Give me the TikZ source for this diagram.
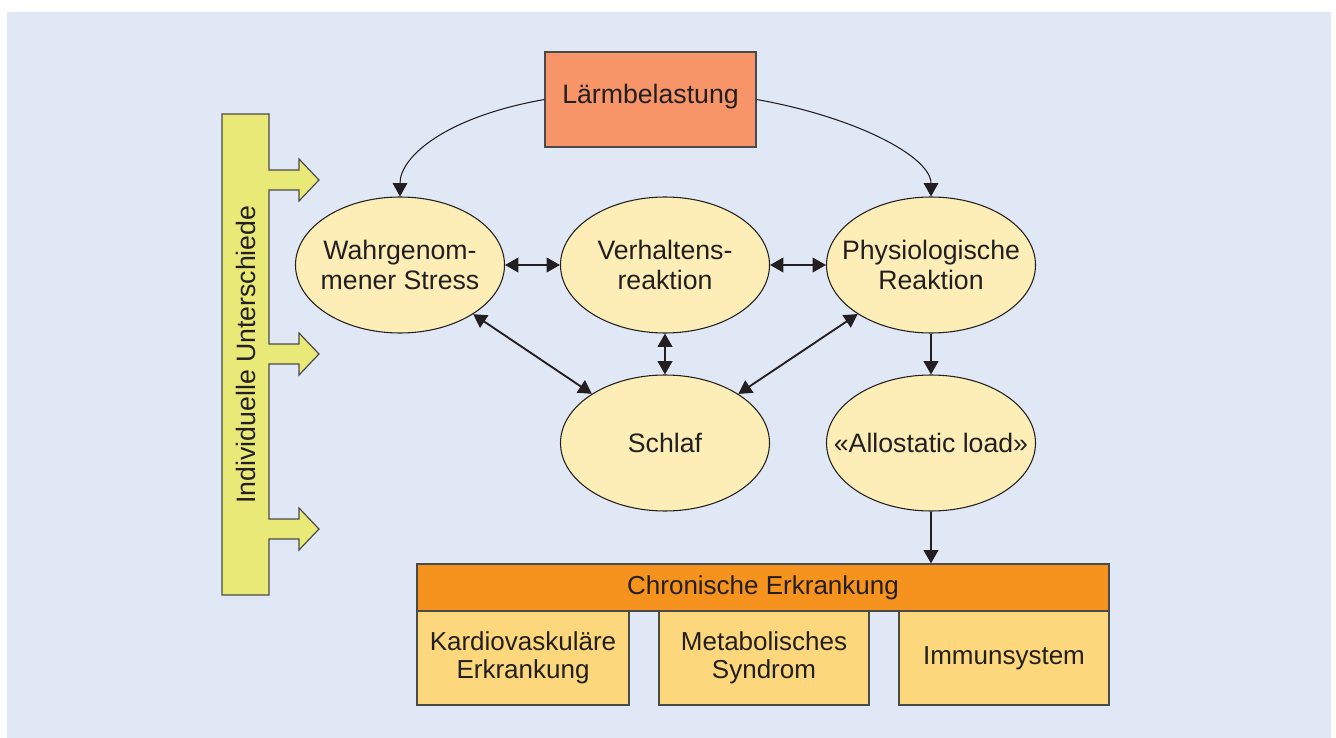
\documentclass[tikz,border=0pt]{standalone}
\usepackage{fontspec}
\setmainfont{Liberation Sans}
\usetikzlibrary{arrows.meta,shapes.geometric}
\definecolor{bgc}{HTML}{E0E8F5}
\definecolor{laermc}{HTML}{F79569}
\definecolor{barc}{HTML}{E9E977}
\definecolor{ellc}{HTML}{FDEDB6}
\definecolor{hdrc}{HTML}{F6921E}
\definecolor{subc}{HTML}{FDD77B}
\definecolor{linec}{HTML}{231F20}
\definecolor{boxline}{HTML}{4A4A4A}
\begin{document}
\begin{tikzpicture}[x=0.75pt,y=-0.75pt,
  mainfont/.style={font=\fontsize{20}{22.5}\selectfont},
  lbl/.style={mainfont,align=center,text=linec,inner sep=0pt},
  ell/.style={ellipse,draw=linec,line width=0.8pt,fill=ellc,minimum width=156.75pt,minimum height=102pt,inner sep=0pt},
  laerm/.style={rectangle,draw=boxline,line width=0.9pt,fill=laermc,minimum width=158.25pt,minimum height=71.25pt,inner sep=0pt,mainfont,text=linec},
  hdr/.style={rectangle,draw=boxline,line width=0.9pt,fill=hdrc,minimum width=519pt,minimum height=35.25pt,inner sep=0pt,font=\fontsize{19.5}{21}\selectfont,text=linec},
  sub/.style={rectangle,draw=boxline,line width=0.9pt,fill=subc,minimum height=70.5pt,inner sep=0pt,align=center,font=\fontsize{19.5}{21}\selectfont,text=linec},
  bar/.style={draw=boxline,line width=0.9pt,fill=barc},
  arr/.style={draw=linec,line width=1.4pt,-{Triangle[length=10pt,width=11pt]}},
  darr/.style={draw=linec,line width=1.4pt,{Triangle[length=10pt,width=11pt]}-{Triangle[length=10pt,width=11pt]}},
  carr/.style={draw=linec,line width=0.8pt,-{Triangle[length=10pt,width=11pt]}}
]
\useasboundingbox (0,0) rectangle (1336,738);
\fill[bgc] (7,12) rectangle (1331,738);

% left bar with three arrows
\draw[bar] (222,114) -- (269,114) -- (269,170) -- (299,170) -- (299,159) -- (319,180) -- (299,201) -- (299,190) -- (269,190)
  -- (269,344) -- (299,344) -- (299,333) -- (319,354) -- (299,375) -- (299,364) -- (269,364)
  -- (269,519) -- (299,519) -- (299,508) -- (319,529) -- (299,550) -- (299,539) -- (269,539)
  -- (269,595) -- (222,595) -- cycle;
\node[lbl,rotate=90] (iu) at (245.5,354.5) {Individuelle Unterschiede};

% top box
\node[laerm] (l) at (650.5,99.5) {};
\node[lbl] (lt) at (650.5,97) {Lärmbelastung};

% ellipses
\node[ell] (w) at (400,265) {};
\node[ell] (v) at (665,265) {};
\node[ell] (p) at (931,265) {};
\node[ell] (s) at (665,443) {};
\node[ell] (a) at (931,443) {};
\node[lbl] (wt) at (w.center) {Wahrgenom-\\mener Stress};
\node[lbl] (vt) at (v.center) {Verhaltens-\\reaktion};
\node[lbl] (pt) at (p.center) {Physiologische\\Reaktion};
\node[lbl] (st) at (s.center) {Schlaf};
\node[lbl] (at) at (a.center) {«Allostatic load»};

% bottom boxes
\node[hdr] (h) at (763,587.5) {Chronische Erkrankung};
\node[sub,minimum width=159pt] (k) at (523,658) {Kardiovaskuläre\\Erkrankung};
\node[sub,minimum width=157.5pt] (m) at (764,658) {Metabolisches\\Syndrom};
\node[sub,minimum width=157.5pt] (i) at (1004,658) {Immunsystem};

% connectors
\draw[carr] (l.west) .. controls +(-98.5,17.4) and +(0,-40) .. (w.north);
\draw[carr] (l.east) .. controls +(98.5,17.4) and +(0,-40) .. (p.north);
\draw[darr] (w) -- (v);
\draw[darr] (v) -- (p);
\draw[darr] (w) -- (s);
\draw[darr] (v) -- (s);
\draw[darr] (p) -- (s);
\draw[arr] (p) -- (a);
\draw[arr] (a.south) -- (a.south |- h.north);
\end{tikzpicture}
\end{document}
